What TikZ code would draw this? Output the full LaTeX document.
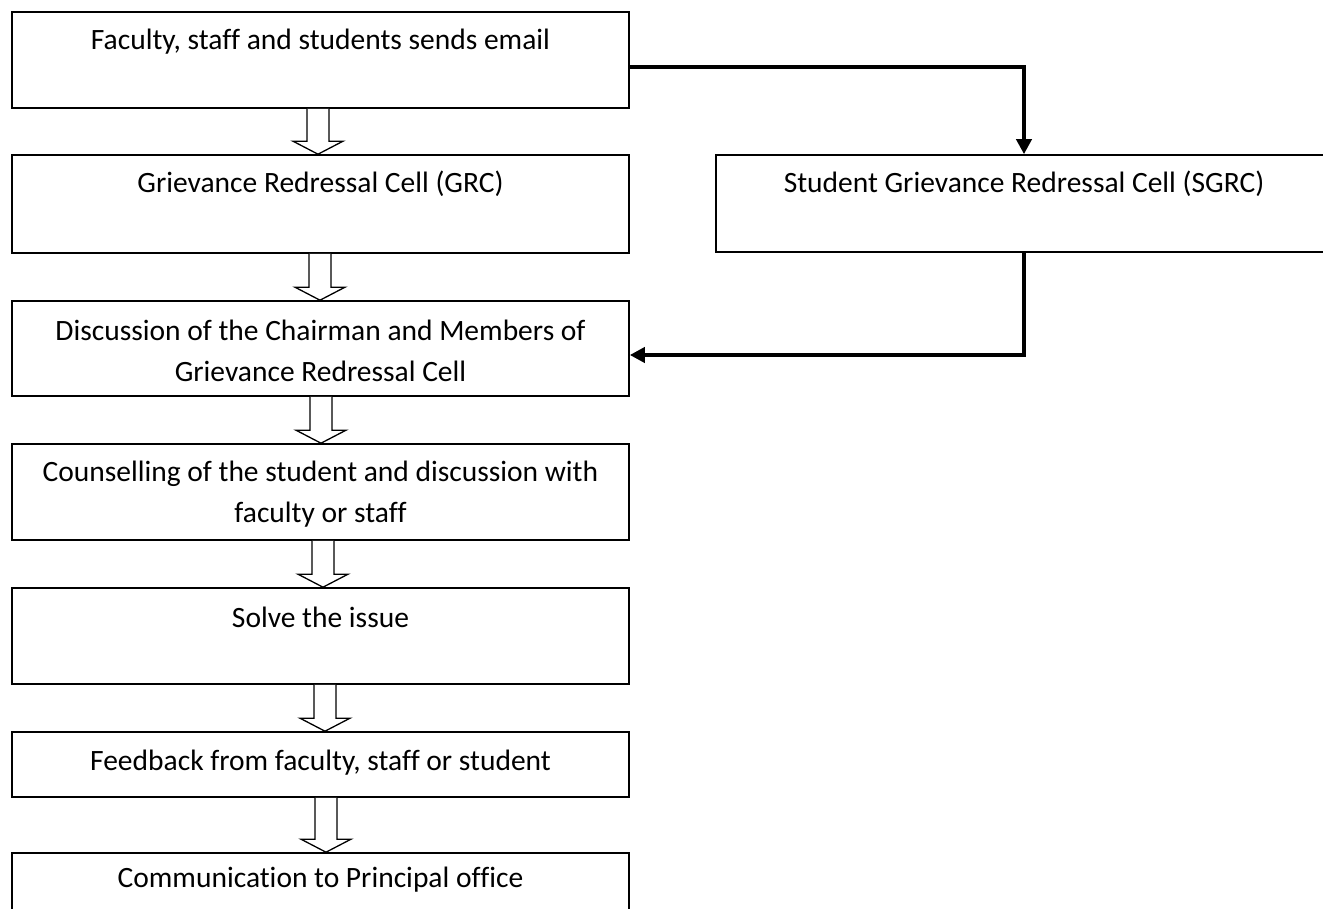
\documentclass[tikz,border=0pt]{standalone}
\usepackage{fontspec}
\setmainfont[Ligatures=NoCommon]{Carlito}
\usetikzlibrary{arrows.meta}
\tikzset{
  box/.style={draw, line width=1.6pt, minimum width=617pt, inner sep=0pt},
  txt/.style={font=\fontsize{29.5}{41}\selectfont, align=center, inner sep=0pt},
  hollow/.style={draw, line width=1.3pt, fill=white},
  link/.style={line width=4.8pt, -{Triangle[length=15pt,width=15pt]}},
}
% hollow block arrow: from, to, x offset
\newcommand{\flowarrow}[3]{%
  \draw[hollow] ([xshift=#3-11pt]#1.south)
    -- ([xshift=#3-11pt,yshift=13pt]#2.north)
    -- ([xshift=#3-25pt,yshift=13pt]#2.north)
    -- ([xshift=#3]#2.north)
    -- ([xshift=#3+25pt,yshift=13pt]#2.north)
    -- ([xshift=#3+11pt,yshift=13pt]#2.north)
    -- ([xshift=#3+11pt]#1.south);}

\begin{document}
\begin{tikzpicture}[x=1pt,y=-1pt]
  \clip (0,0) rectangle (1323,909);

  % left column
  \node[box, minimum height=96pt] (email) at (320.5,60) {};
  \node[box, minimum height=98pt] (grc) at (320.5,204) {};
  \node[box, minimum height=95pt] (disc) at (320.5,348.5) {};
  \node[box, minimum height=96pt] (couns) at (320.5,492) {};
  \node[box, minimum height=96pt] (solve) at (320.5,636) {};
  \node[box, minimum height=65pt] (feed) at (320.5,764.5) {};
  \node[box, minimum height=96pt] (comm) at (320.5,901) {};
  % right
  \node[box, minimum width=616pt, minimum height=97pt] (sgrc) at (1024,203.5) {};

  \node[txt, yshift=-30pt] (emailtxt) at (email.north) {Faculty, staff and students sends email};
  \node[txt, yshift=-30pt] (grctxt) at (grc.north) {Grievance Redressal Cell (GRC)};
  \node[txt, yshift=-50.5pt] (disctxt) at (disc.north) {Discussion of the Chairman and Members of\\Grievance Redressal Cell};
  \node[txt, yshift=-50.5pt] (counstxt) at (couns.north) {Counselling of the student and discussion with\\faculty or staff};
  \node[txt, yshift=-30pt] (solvetxt) at (solve.north) {Solve the issue};
  \node[txt, yshift=-31pt] (feedtxt) at (feed.north) {Feedback from faculty, staff or student};
  \node[txt, yshift=-27pt] (commtxt) at (comm.north) {Communication to Principal office};
  \node[txt, yshift=-30pt] (sgrctxt) at (sgrc.north) {Student Grievance Redressal Cell (SGRC)};

  \flowarrow{email}{grc}{-2.5pt}
  \flowarrow{grc}{disc}{-0.5pt}
  \flowarrow{disc}{couns}{0.5pt}
  \flowarrow{couns}{solve}{2.5pt}
  \flowarrow{solve}{feed}{4.5pt}
  \flowarrow{feed}{comm}{5.5pt}

  \draw[link] ([yshift=-7pt]email.east) -| (sgrc.north);
  \draw[link] (sgrc.south) |- ([yshift=-6.5pt]disc.east);
\end{tikzpicture}
\end{document}
